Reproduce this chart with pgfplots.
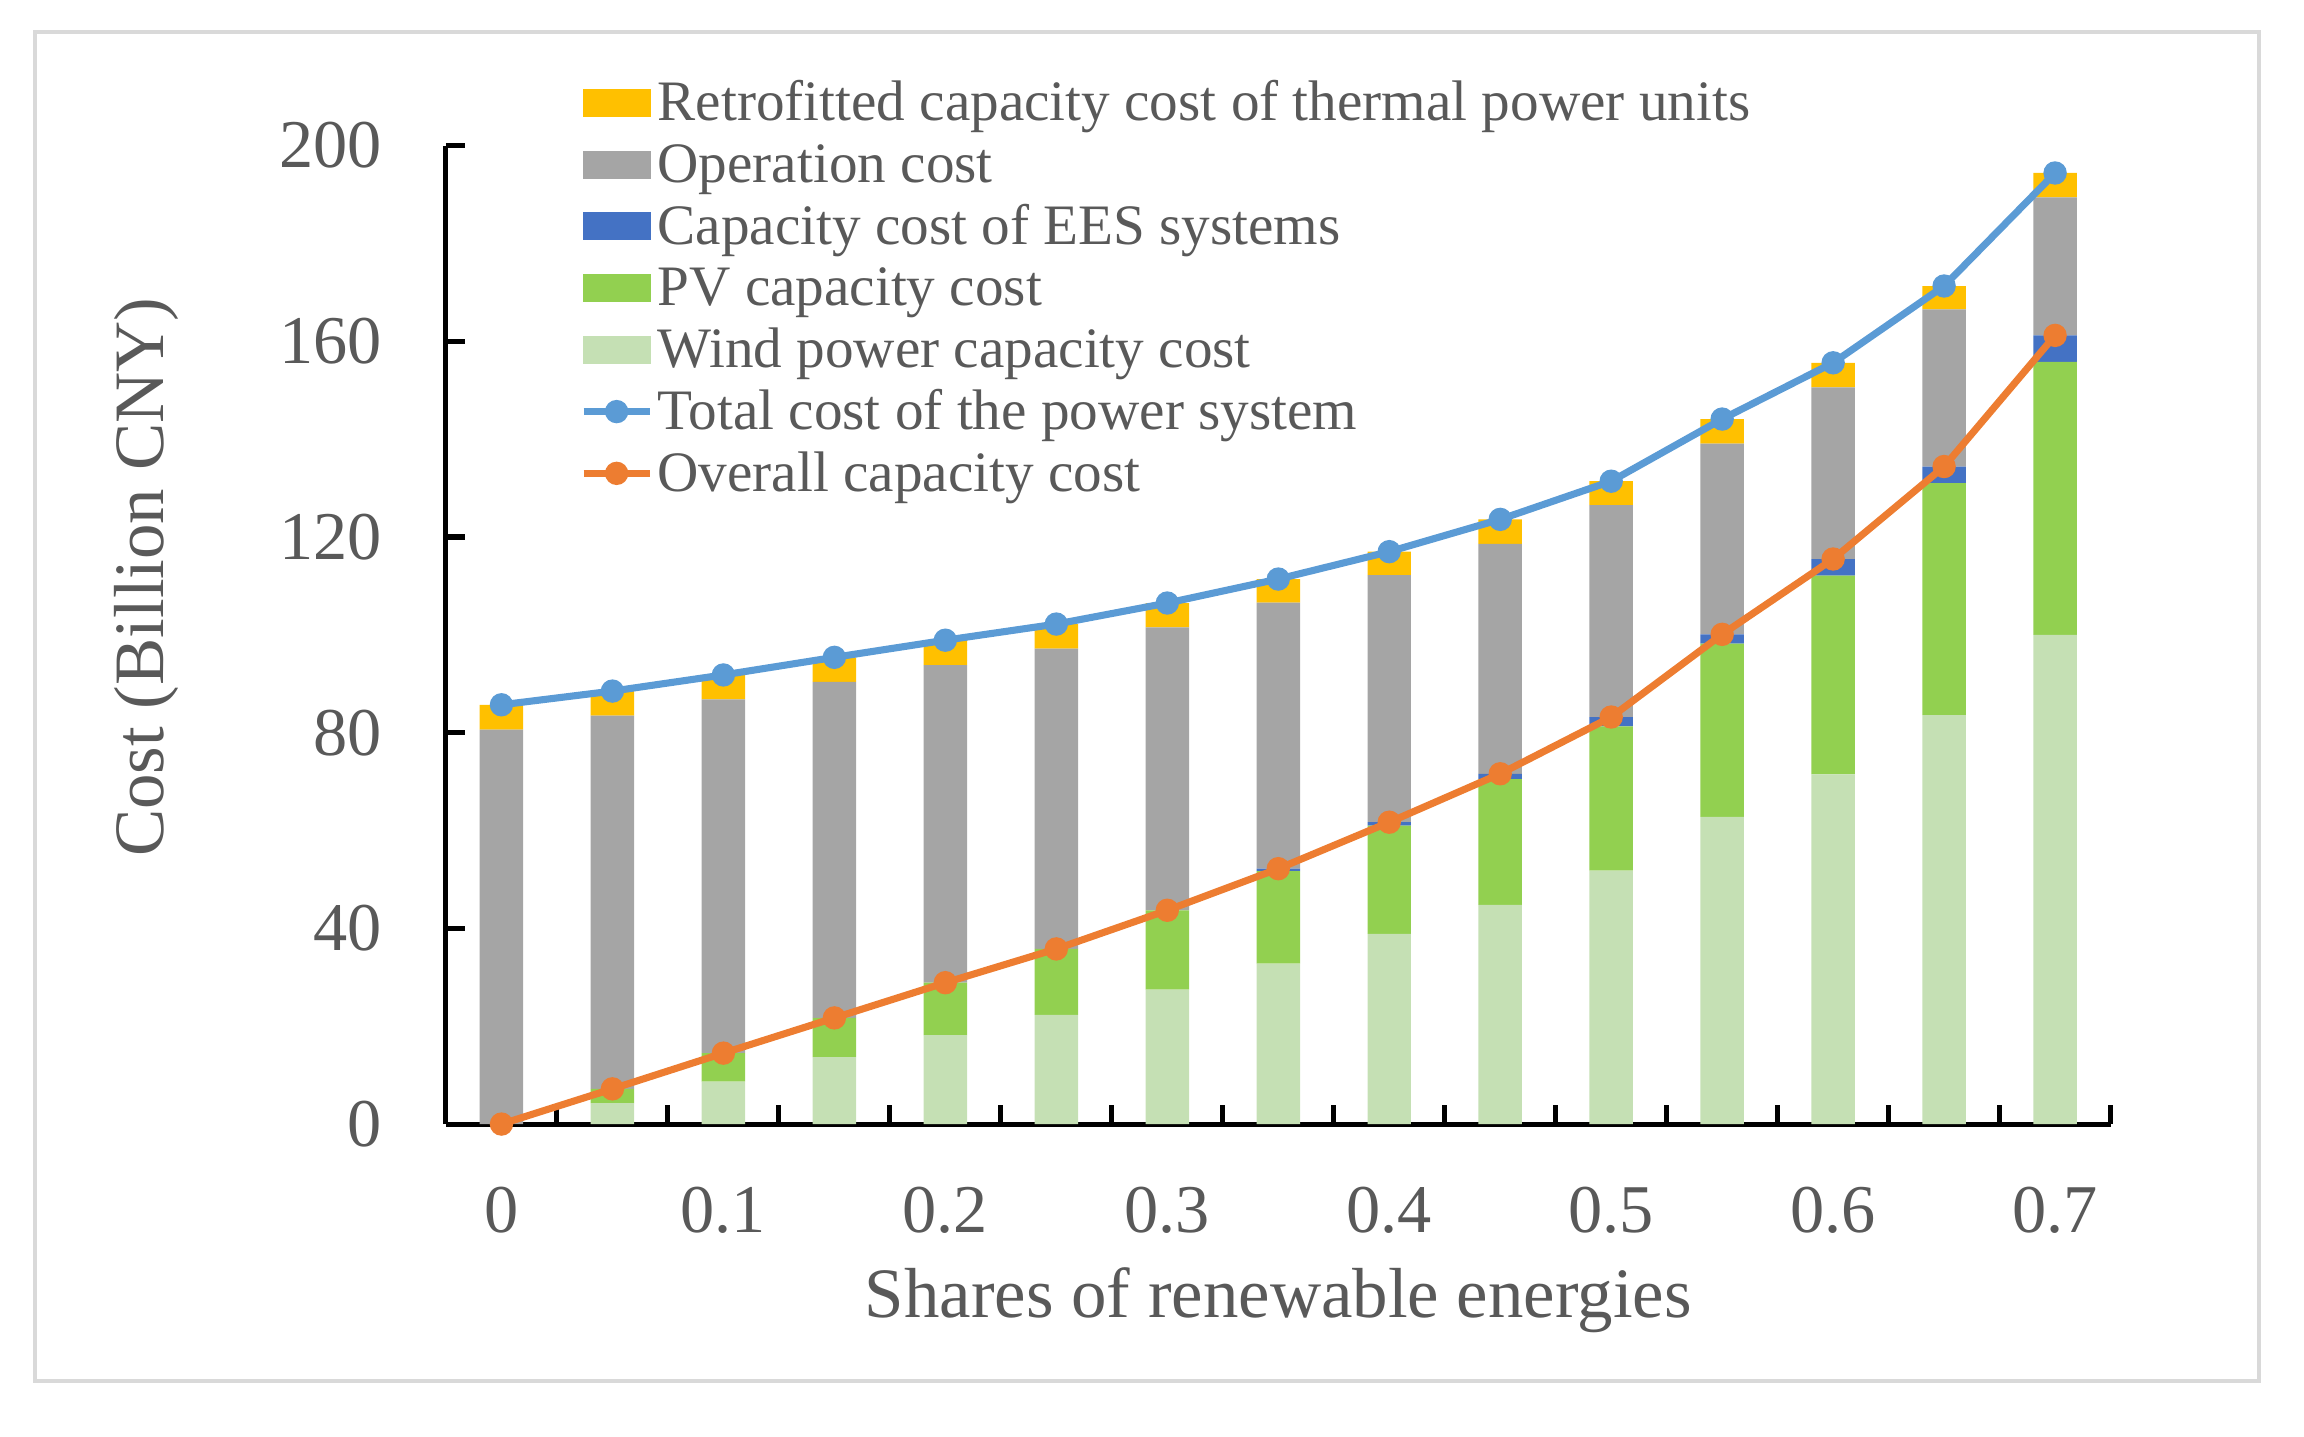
\documentclass[border=0pt]{standalone}
\usepackage{fontspec}
\setmainfont{Liberation Serif}
\usepackage{pgfplots}
\usepackage{pgfplotstable}
\pgfplotsset{compat=1.18}

\definecolor{retro}{HTML}{FFC000}
\definecolor{oper}{HTML}{A5A5A5}
\definecolor{ees}{HTML}{4472C4}
\definecolor{pv}{HTML}{92D050}
\definecolor{wind}{HTML}{C5E0B4}
\definecolor{total}{HTML}{5B9BD5}
\definecolor{overall}{HTML}{ED7D31}
\definecolor{txt}{HTML}{595959}
\definecolor{frame}{HTML}{D9D9D9}

% costs in billion CNY per share of renewable energies
\pgfplotstableread{
x     wind   pv    ees  op    retro total overall
0     0      0     0    80.6  5.1   85.7  0
0.05  4.3    2.9   0    76.3  5.0   88.5  7.2
0.1   8.7    5.8   0    72.3  5.0   91.8  14.5
0.15  13.7   8.0   0    68.7  5.0   95.4  21.7
0.2   18.2   10.7  0    64.9  5.1   98.9  28.9
0.25  22.3   13.5  0    61.4  5.0   102.2 35.8
0.3   27.5   16.2  0    57.8  5.0   106.5 43.7
0.35  32.8   18.9  0.5  54.4  4.8   111.4 52.2
0.4   38.9   22.1  0.7  50.5  4.8   117.0 61.7
0.45  44.8   25.7  1.1  47.0  5.0   123.6 71.6
0.5   51.8   29.5  1.9  43.3  4.9   131.4 83.2
0.55  62.8   35.4  1.9  39.0  5.0   144.1 100.1
0.6   71.5   40.6  3.4  35.1  5.0   155.6 115.5
0.65  83.6   47.4  3.4  32.1  4.8   171.3 134.4
0.7   100.0  55.8  5.4  28.2  5.0   194.4 161.2
}\costdata

\pgfplotsset{
  base/.style={
    scale only axis, width=11.56cm, height=6.795cm,
    xmin=-0.025, xmax=0.725, ymin=0, ymax=200,
  },
}

\begin{document}
\begin{tikzpicture}
\useasboundingbox (-3.097,-2.167) rectangle (12.903,7.806);

\begin{axis}[base,
  ybar stacked, bar width=0.302cm,
  axis x line=bottom, axis y line=left,
  axis line style={-, black, line width=1pt},
  tick align=inside,
  major tick length=0.13cm, minor tick length=0.13cm,
  every tick/.style={black, line width=1pt},
  xtick={0,0.1,0.2,0.3,0.4,0.5,0.6,0.7},
  xticklabels={0,0.1,0.2,0.3,0.4,0.5,0.6,0.7},
  minor xtick={0.025,0.075,0.125,0.175,0.225,0.275,0.325,0.375,0.425,0.475,0.525,0.575,0.625,0.675,0.725},
  major x tick style={draw=none},
  ytick={0,40,80,120,160,200},
  yticklabels={0,40,80,120,160,200},
  tick label style={font=\fontsize{13.5}{15}\selectfont, text=txt, inner sep=0pt},
  xticklabel style={anchor=north, yshift=-0.43cm},
  yticklabel style={anchor=east, xshift=-0.44cm},
  xlabel={Shares of renewable energies},
  ylabel={Cost (Billion CNY)},
  every axis x label/.style={at={(axis description cs:0.5,-0.1795)}, anchor=center,
    font=\fontsize{14}{16}\selectfont, text=txt},
  every axis y label/.style={at={(axis description cs:-0.18,0.5589)}, anchor=center,
    rotate=90, font=\fontsize{14}{16}\selectfont, text=txt},
]
\addplot[fill=wind, draw=none] table[x=x, y=wind] {\costdata};
\addplot[fill=pv, draw=none] table[x=x, y=pv] {\costdata};
\addplot[fill=ees, draw=none] table[x=x, y=ees] {\costdata};
\addplot[fill=oper, draw=none] table[x=x, y=op] {\costdata};
\addplot[fill=retro, draw=none] table[x=x, y=retro] {\costdata};
\end{axis}

\begin{axis}[base, hide axis, clip=false,
  legend cell align=left,
  legend style={at={(0.0805,1.0721)}, anchor=north west, draw=none, fill=none,
    inner sep=0pt, outer sep=0pt, row sep=1.2pt,
    font=\fontsize{11.3}{12}\selectfont, text=txt,
    nodes={inner sep=0pt, text height=9pt, text depth=2pt}},
]
\addlegendimage{legend image code/.code={\fill[retro] (0cm,-0.09cm) rectangle (0.46cm,0.09cm); \path (0.49cm,0cm);}}
\addlegendentry{Retrofitted capacity cost of thermal power units}
\addlegendimage{legend image code/.code={\fill[oper] (0cm,-0.09cm) rectangle (0.46cm,0.09cm); \path (0.49cm,0cm);}}
\addlegendentry{Operation cost}
\addlegendimage{legend image code/.code={\fill[ees] (0cm,-0.09cm) rectangle (0.46cm,0.09cm); \path (0.49cm,0cm);}}
\addlegendentry{Capacity cost of EES systems}
\addlegendimage{legend image code/.code={\fill[pv] (0cm,-0.09cm) rectangle (0.46cm,0.09cm); \path (0.49cm,0cm);}}
\addlegendentry{PV capacity cost}
\addlegendimage{legend image code/.code={\fill[wind] (0cm,-0.09cm) rectangle (0.46cm,0.09cm); \path (0.49cm,0cm);}}
\addlegendentry{Wind power capacity cost}

\addplot[total, line width=1.4pt, mark=*, mark size=1.6pt, mark options={fill=total, draw=total},
  legend image code/.code={\draw[total, line width=1.4pt] (0cm,0cm) -- (0.46cm,0cm);
    \fill[total] (0.23cm,0cm) circle (1.6pt); \path (0.49cm,0cm);}]
  table[x=x, y=total] {\costdata};
\addlegendentry{Total cost of the power system}
\addplot[overall, line width=1.4pt, mark=*, mark size=1.6pt, mark options={fill=overall, draw=overall},
  legend image code/.code={\draw[overall, line width=1.4pt] (0cm,0cm) -- (0.46cm,0cm);
    \fill[overall] (0.23cm,0cm) circle (1.6pt); \path (0.49cm,0cm);}]
  table[x=x, y=overall] {\costdata};
\addlegendentry{Overall capacity cost}
\end{axis}

\draw[frame, line width=0.7pt] (-2.854,-1.785) rectangle (12.59,7.583);
\end{tikzpicture}
\end{document}
